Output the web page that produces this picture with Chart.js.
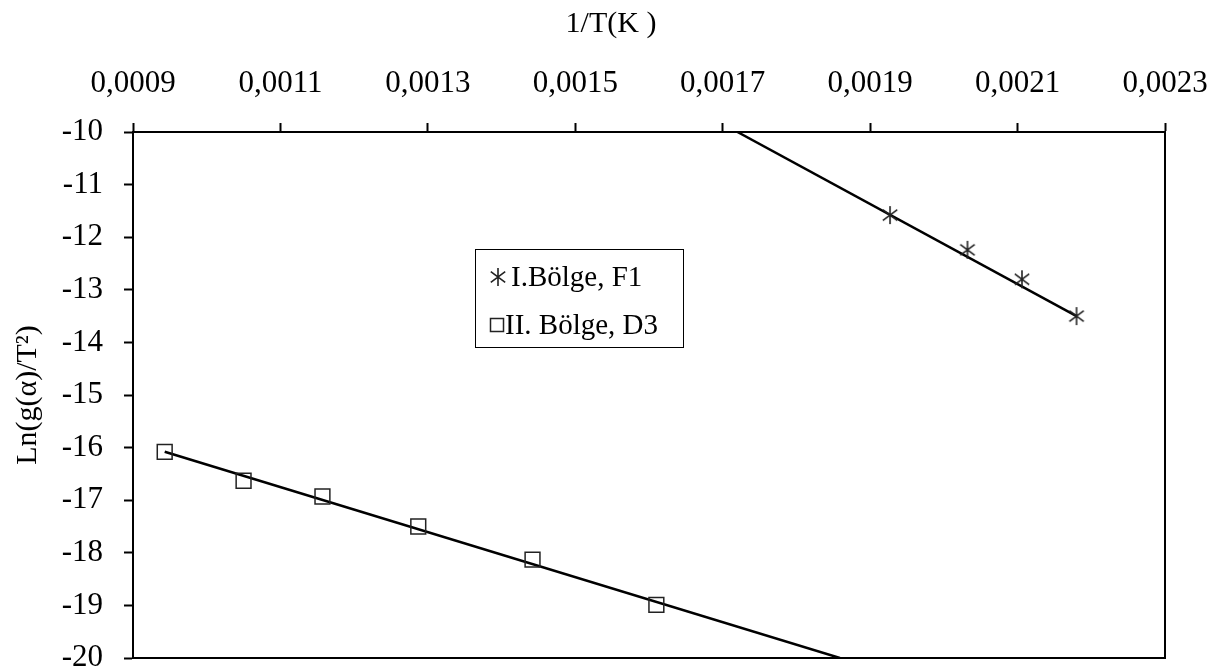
<!DOCTYPE html>
<html lang="tr">
<head>
<meta charset="UTF-8">
<title>Ln(g(α)/T²) - 1/T</title>
<script src="https://cdn.jsdelivr.net/npm/chart.js@4.4.0/dist/chart.umd.min.js"></script>
<style>
    html, body { margin: 0; padding: 0; background: #fff; }
    #wrap { width: 1230px; height: 670px; position: relative; }
</style>
</head>
<body>
<div id="wrap"><canvas id="kinetik" width="1230" height="670"></canvas></div>
<script>
// values: x = 1/T, y = Ln(g(a)/T^2)
const f1X = [0.001927, 0.002032, 0.002106, 0.002180];
const f1Y = [-11.58, -12.24, -12.80, -13.50];
const d3X = [0.000943, 0.001050, 0.001157, 0.001287, 0.001442, 0.001610];
const d3Y = [-16.08, -16.63, -16.93, -17.50, -18.13, -18.99];

// trend line end points
const f1TrendX = [0.001720, 0.002180];
const f1TrendY = [-10, -13.50];
const d3TrendX = [0.000943, 0.001859];
const d3TrendY = [-16.08, -20];

const xTicks = [0.0009, 0.0011, 0.0013, 0.0015, 0.0017, 0.0019, 0.0021, 0.0023];
const xTickLabels = ['0,0009', '0,0011', '0,0013', '0,0015', '0,0017', '0,0019', '0,0021', '0,0023'];
const yTicks = [-20, -19, -18, -17, -16, -15, -14, -13, -12, -11, -10];

const seriesNames = ['I.Bölge, F1', 'II. Bölge, D3'];
const xTitle = '1/T(K )';
const yTitle = 'Ln(g(α)/T²)';

const FONT = '"Liberation Serif", "Times New Roman", serif';
Chart.defaults.font.family = FONT;
Chart.defaults.color = '#000';

// asterisk marker (vertical stroke + two diagonals)
function makeStar(size) {
    const c = document.createElement('canvas');
    c.width = size; c.height = size;
    const g = c.getContext('2d');
    const m = size / 2, r = size / 2 - 1;
    g.strokeStyle = '#222';
    g.lineWidth = 1.6;
    g.beginPath();
    g.moveTo(m, 1); g.lineTo(m, size - 1);
    g.moveTo(m - r * 0.8, m - r * 0.6); g.lineTo(m + r * 0.8, m + r * 0.6);
    g.moveTo(m - r * 0.8, m + r * 0.6); g.lineTo(m + r * 0.8, m - r * 0.6);
    g.stroke();
    return c;
}
const star = makeStar(20);

const pts = (xs, ys) => xs.map((x, i) => ({ x: x, y: ys[i] }));

const framePlugin = {
    id: 'frame',
    afterDatasetsDraw(chart) {
        const { ctx, chartArea: a } = chart;
        ctx.save();
        ctx.strokeStyle = '#000';
        ctx.lineWidth = 2;
        ctx.beginPath();
        ctx.moveTo(a.left, a.bottom);
        ctx.lineTo(a.right, a.bottom);
        ctx.lineTo(a.right, a.top);
        ctx.stroke();
        ctx.restore();
    }
};

const textPlugin = {
    id: 'texts',
    afterDraw(chart) {
        const ctx = chart.ctx;
        ctx.save();
        ctx.fillStyle = '#000';
        // x axis title
        ctx.font = '30px ' + FONT;
        ctx.textAlign = 'center';
        ctx.textBaseline = 'alphabetic';
        ctx.fillText(xTitle, 611, 32);

        // legend box
        ctx.strokeStyle = '#000';
        ctx.lineWidth = 1;
        ctx.strokeRect(475.5, 249.5, 208, 98);
        ctx.font = '29px ' + FONT;
        ctx.textAlign = 'left';
        ctx.textBaseline = 'middle';
        ctx.drawImage(star, 498 - 10, 277 - 10);
        ctx.fillText(seriesNames[0], 511, 278);
        ctx.strokeStyle = '#222';
        ctx.lineWidth = 1.5;
        ctx.strokeRect(490.5, 318.5, 13, 13);
        ctx.fillText(seriesNames[1], 505, 326);
        ctx.restore();
    }
};

const gridOpts = {
    drawOnChartArea: false,
    drawTicks: true,
    tickLength: 9,
    tickWidth: 2,
    tickColor: '#000'
};

new Chart(document.getElementById('kinetik'), {
    type: 'scatter',
    data: {
        datasets: [
            {
                label: seriesNames[0],
                data: pts(f1X, f1Y),
                pointStyle: star,
                pointRadius: 10,
                showLine: false
            },
            {
                label: seriesNames[1],
                data: pts(d3X, d3Y),
                pointStyle: 'rect',
                pointRadius: 10.5,
                pointBorderColor: '#222',
                pointBackgroundColor: 'rgba(0,0,0,0)',
                pointBorderWidth: 1.5,
                showLine: false
            },
            {
                label: 'trend F1',
                data: pts(f1TrendX, f1TrendY),
                showLine: true,
                borderColor: '#000',
                borderWidth: 2.5,
                pointRadius: 0
            },
            {
                label: 'trend D3',
                data: pts(d3TrendX, d3TrendY),
                showLine: true,
                borderColor: '#000',
                borderWidth: 2.5,
                pointRadius: 0
            }
        ]
    },
    options: {
        responsive: false,
        animation: false,
        devicePixelRatio: 1,
        layout: { padding: { left: 0, top: 0, right: 65, bottom: 12 } },
        plugins: {
            legend: { display: false },
            tooltip: { enabled: false }
        },
        scales: {
            x: {
                type: 'linear',
                position: 'top',
                min: 0.0009,
                max: 0.0023,
                afterBuildTicks: s => { s.ticks = xTicks.map(v => ({ value: v })); },
                afterFit: s => { s.height = 132; s.paddingLeft = 0; s.paddingRight = 0; },
                ticks: {
                    callback: v => xTickLabels[xTicks.indexOf(v)],
                    font: { size: 31 },
                    color: '#000',
                    padding: 21,
                    maxRotation: 0,
                    autoSkip: false
                },
                grid: gridOpts,
                border: { color: '#000', width: 2 }
            },
            y: {
                type: 'linear',
                min: -20,
                max: -10,
                afterBuildTicks: s => { s.ticks = yTicks.map(v => ({ value: v })); },
                afterFit: s => { s.width = 133; s.paddingTop = 0; s.paddingBottom = 0; },
                ticks: {
                    callback: v => String(v),
                    font: { size: 31 },
                    color: '#000',
                    padding: 21
                },
                title: {
                    display: true,
                    text: yTitle,
                    font: { size: 30 },
                    color: '#000',
                    padding: { top: 10, bottom: 0 }
                },
                grid: gridOpts,
                border: { color: '#000', width: 2 }
            }
        }
    },
    plugins: [framePlugin, textPlugin]
});
</script>
</body>
</html>
